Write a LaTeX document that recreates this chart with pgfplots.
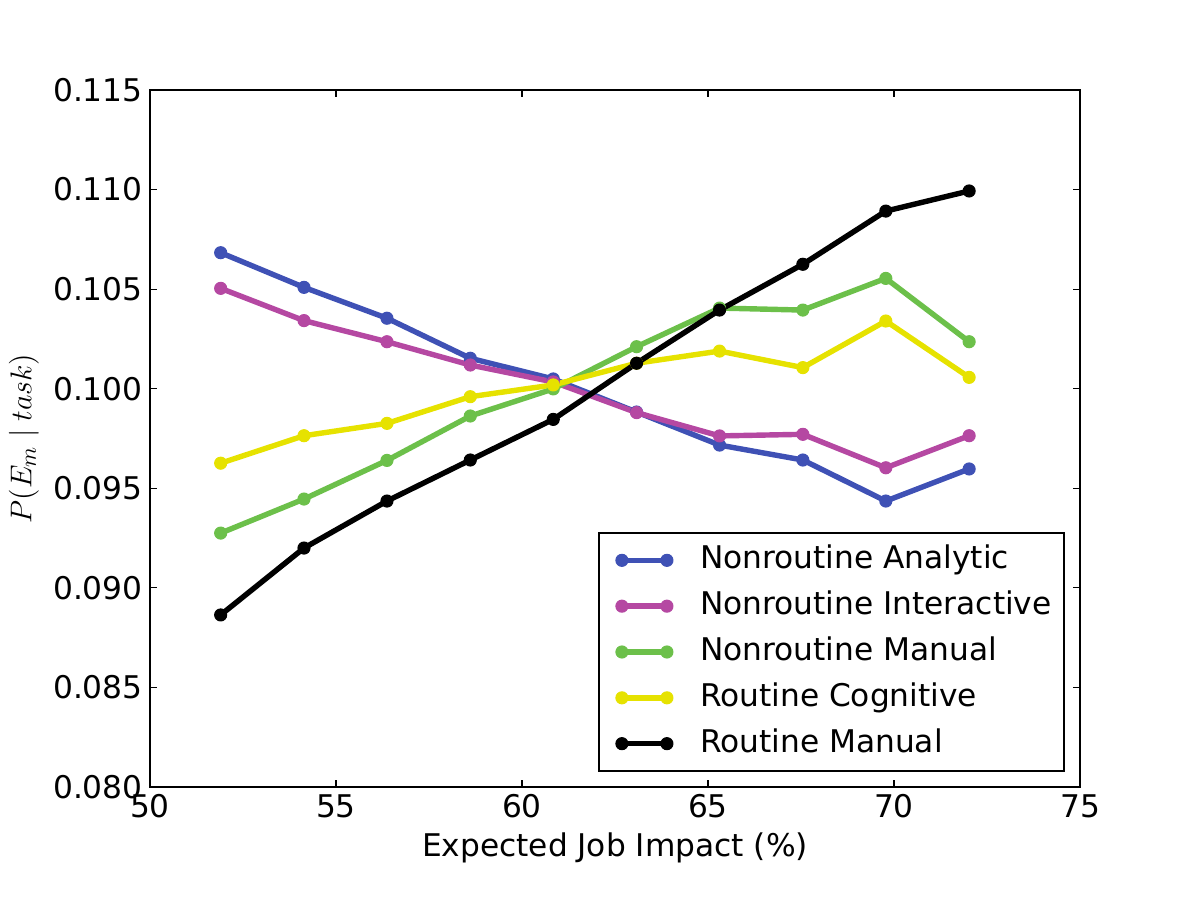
\documentclass[border=0pt]{standalone}
\usepackage{pgfplots}
\pgfplotsset{compat=1.18}
\usepackage{fontspec}
\setmainfont{DejaVu Sans}
\definecolor{cNA}{RGB}{63,81,181}
\definecolor{cNI}{RGB}{181,72,162}
\definecolor{cNM}{RGB}{108,192,74}
\definecolor{cRC}{RGB}{230,226,0}
\definecolor{cRM}{RGB}{0,0,0}
\newcommand{\fs}{\fontsize{15}{18}\selectfont}
\begin{document}
\begin{tikzpicture}
\path (0,0) rectangle (576pt,432pt);
\begin{axis}[
  at={(72pt,54.24pt)}, anchor=south west,
  scale only axis, width=446.4pt, height=334.56pt,
  xmin=50, xmax=75, ymin=0.080, ymax=0.115,
  xtick={50,55,60,65,70,75},
  ytick={0.080,0.085,0.090,0.095,0.100,0.105,0.110,0.115},
  yticklabel style={/pgf/number format/.cd, fixed, fixed zerofill, precision=3},
  /pgf/number format/assume math mode=true,
  ticklabel style={font=\fs},
  label style={font=\fs},
  tick align=inside,
  tick style={line width=0.5pt, black},
  major tick length=3.5pt,
  axis line style={line width=0.8pt},
  xlabel={Expected Job Impact (\%)},
  ylabel={$P(E_m\mid task)$},
  every axis plot/.append style={line width=2.6pt, line join=round, line cap=round, mark=*, mark size=2.9pt, mark options={solid, line width=0.5pt}},
  legend cell align=left,
  legend style={at={(1,0)}, anchor=south east, xshift=-7.2pt, yshift=7.4pt, draw=black, line width=0.8pt, font=\fs, inner xsep=6pt, inner ysep=6pt, row sep=8pt, column sep=0pt, nodes={inner sep=0pt, text height=11pt, text depth=3pt}},
  legend image code/.code={\path[draw=none,fill=none] (-5pt,-1pt) rectangle (37.5pt,1pt); \draw[#1] plot coordinates {(0pt,0pt) (21.6pt,0pt)};},
]
\addplot[color=cNA] coordinates {(51.90,0.10683) (54.14,0.10509) (56.37,0.10354) (58.61,0.10153) (60.84,0.10049) (63.08,0.09883) (65.31,0.09717) (67.55,0.09642) (69.78,0.09436) (72.02,0.09597)};
\addlegendentry{Nonroutine Analytic}
\addplot[color=cNI] coordinates {(51.90,0.10504) (54.14,0.10342) (56.37,0.10236) (58.61,0.10119) (60.84,0.10034) (63.08,0.09880) (65.31,0.09763) (67.55,0.09771) (69.78,0.09603) (72.02,0.09764)};
\addlegendentry{Nonroutine Interactive}
\addplot[color=cNM] coordinates {(51.90,0.09275) (54.14,0.09446) (56.37,0.09640) (58.61,0.09863) (60.84,0.09999) (63.08,0.10211) (65.31,0.10405) (67.55,0.10395) (69.78,0.10554) (72.02,0.10236)};
\addlegendentry{Nonroutine Manual}
\addplot[color=cRC] coordinates {(51.90,0.09626) (54.14,0.09764) (56.37,0.09826) (58.61,0.09960) (60.84,0.10019) (63.08,0.10128) (65.31,0.10189) (67.55,0.10106) (69.78,0.10340) (72.02,0.10057)};
\addlegendentry{Routine Cognitive}
\addplot[color=cRM] coordinates {(51.90,0.08864) (54.14,0.09200) (56.37,0.09436) (58.61,0.09642) (60.84,0.09846) (63.08,0.10128) (65.31,0.10395) (67.55,0.10625) (69.78,0.10892) (72.02,0.10993)};
\addlegendentry{Routine Manual}
\end{axis}
\end{tikzpicture}
\end{document}
